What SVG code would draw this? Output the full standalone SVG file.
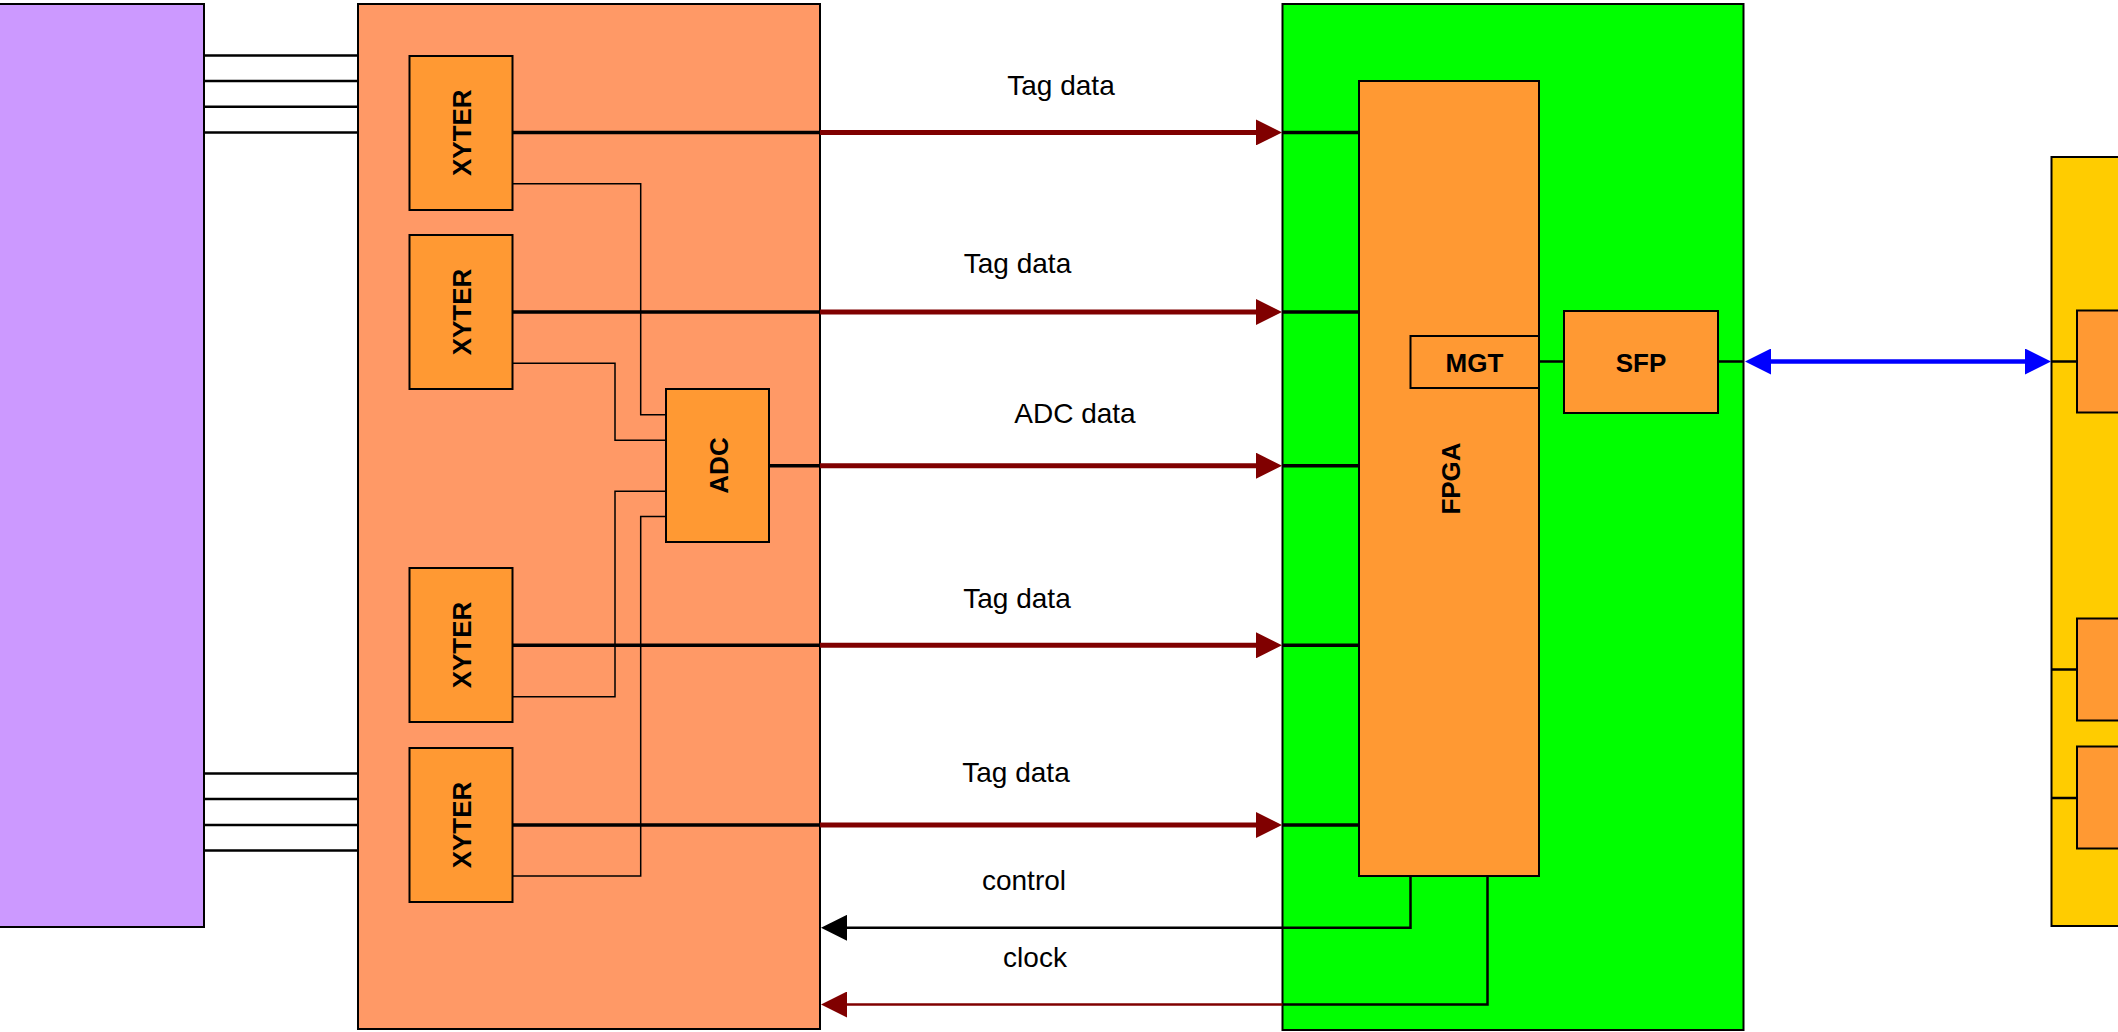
<svg xmlns="http://www.w3.org/2000/svg" width="2118" height="1032" viewBox="0 0 2118 1032">
<defs>
<style>
.box{stroke:#000;stroke-width:2}
.purple{fill:#CC99FF}
.board{fill:#FF9966}
.chip{fill:#FF9933}
.green{fill:#00FF00}
.yellow{fill:#FFCC00}
.bl{font-family:"Comic Sans MS","Liberation Sans",sans-serif;font-weight:bold;font-size:26px;text-anchor:middle;fill:#000}
.lbl{font-family:"Comic Sans MS","Liberation Sans",sans-serif;font-size:28px;text-anchor:middle;fill:#000}
.thin{fill:none;stroke:#000;stroke-width:1.5}
.wire{fill:none;stroke:#000;stroke-width:2.5}
.thick{fill:none;stroke:#000;stroke-width:3.5}
.red{fill:none;stroke:#800000;stroke-width:5;marker-end:url(#ahRed)}
.redThin{fill:none;stroke:#800000;stroke-width:2.5;marker-end:url(#ahRed)}
.blk{fill:none;stroke:#000;stroke-width:2.5;marker-end:url(#ahBlack)}
.blue{fill:none;stroke:#0000FF;stroke-width:4.5;marker-start:url(#ahBlueS);marker-end:url(#ahBlue)}
</style>
<marker id="ahRed" viewBox="0 0 26 26" refX="6" refY="13" markerWidth="26" markerHeight="26" markerUnits="userSpaceOnUse" orient="auto"><path d="M0,0 L26,13 L0,26 z" fill="#800000"/></marker>
<marker id="ahBlack" viewBox="0 0 26 26" refX="6" refY="13" markerWidth="26" markerHeight="26" markerUnits="userSpaceOnUse" orient="auto"><path d="M0,0 L26,13 L0,26 z" fill="#000"/></marker>
<marker id="ahBlue" viewBox="0 0 26 26" refX="6" refY="13" markerWidth="26" markerHeight="26" markerUnits="userSpaceOnUse" orient="auto"><path d="M0,0 L26,13 L0,26 z" fill="#0000FF"/></marker>
<marker id="ahBlueS" viewBox="0 0 26 26" refX="20" refY="13" markerWidth="26" markerHeight="26" markerUnits="userSpaceOnUse" orient="auto"><path d="M26,0 L0,13 L26,26 z" fill="#0000FF"/></marker>
</defs>
<rect width="2118" height="1032" fill="#fff"/>

<g id="detector"><rect class="box purple" x="-2" y="4" width="206" height="923"/></g>
<g id="frontend-board"><rect class="box board" x="358" y="4" width="462" height="1025"/></g>
<g id="readout-board"><rect class="box green" x="1282.5" y="4" width="461" height="1026"/></g>
<g id="daq-board"><rect class="box yellow" x="2051.5" y="157" width="100" height="769"/></g>

<g id="xyter1"><rect class="box chip" x="409.5" y="56" width="103" height="154"/><text class="bl" transform="translate(461,132.7) rotate(-90)" y="9.5">XYTER</text></g>
<g id="xyter2"><rect class="box chip" x="409.5" y="235" width="103" height="154"/><text class="bl" transform="translate(461,312) rotate(-90)" y="9.5">XYTER</text></g>
<g id="xyter3"><rect class="box chip" x="409.5" y="568" width="103" height="154"/><text class="bl" transform="translate(461,645) rotate(-90)" y="9.5">XYTER</text></g>
<g id="xyter4"><rect class="box chip" x="409.5" y="748" width="103" height="154"/><text class="bl" transform="translate(461,825) rotate(-90)" y="9.5">XYTER</text></g>
<g id="adc"><rect class="box chip" x="666" y="389" width="103" height="153"/><text class="bl" transform="translate(718,465.5) rotate(-90)" y="9.5">ADC</text></g>
<g id="fpga"><rect class="box chip" x="1359" y="81" width="180" height="795"/><text class="bl" transform="translate(1450.5,478.5) rotate(-90)" y="9.5">FPGA</text></g>
<g id="mgt"><rect class="box chip" x="1410.5" y="336" width="128.5" height="52"/><text class="bl" x="1474.5" y="372">MGT</text></g>
<g id="sfp"><rect class="box chip" x="1564" y="311" width="154" height="102"/><text class="bl" x="1641" y="372">SFP</text></g>
<g id="daq-chip1"><rect class="box chip" x="2077" y="310.5" width="80" height="102"/></g>
<g id="daq-chip2"><rect class="box chip" x="2077" y="618.5" width="80" height="102"/></g>
<g id="daq-chip3"><rect class="box chip" x="2077" y="746.5" width="80" height="102"/></g>

<g id="connectors">
<path class="wire" d="M204,55.5H358M204,81H358M204,106.7H358M204,132.4H358M204,773.5H358M204,799H358M204,825H358M204,850.5H358"/>
<path class="thin" d="M512.5,183.7H640.7V414.7H666M512.5,363.3H615V440.3H666M512.5,696.8H615V491.3H666M512.5,876H640.7V516.6H666"/>
<path class="thick" d="M512.5,132.4H820M512.5,312H820M769,465.7H820M512.5,645.3H820M512.5,825H820"/>
<path class="thick" d="M1282.5,132.4H1359M1282.5,312H1359M1282.5,465.7H1359M1282.5,645.3H1359M1282.5,825H1359"/>
<line class="red" x1="820" y1="132.4" x2="1262" y2="132.4"/>
<line class="red" x1="820" y1="312" x2="1262" y2="312"/>
<line class="red" x1="820" y1="465.7" x2="1262" y2="465.7"/>
<line class="red" x1="820" y1="645.3" x2="1262" y2="645.3"/>
<line class="red" x1="820" y1="825" x2="1262" y2="825"/>
<path class="wire" d="M1539,361.5H1564M1718,361.5H1743.5"/>
<line class="blue" x1="1765" y1="361.5" x2="2031" y2="361.5"/>
<path class="wire" d="M2051.5,361.5H2077M2051.5,669.5H2077M2051.5,798H2077"/>
<path class="wire" d="M1410.5,876V927.8H1282.5M1487.5,876V1004.5H1282.5"/>
<line class="blk" x1="1282.5" y1="927.8" x2="841" y2="927.8"/>
<line class="redThin" x1="1282.5" y1="1004.5" x2="841" y2="1004.5"/>
</g>

<g id="labels">
<text class="lbl" x="1061" y="95">Tag data</text>
<text class="lbl" x="1017.5" y="273">Tag data</text>
<text class="lbl" x="1075" y="423">ADC data</text>
<text class="lbl" x="1017" y="608">Tag data</text>
<text class="lbl" x="1016" y="781.5">Tag data</text>
<text class="lbl" x="1024" y="889.5">control</text>
<text class="lbl" x="1035" y="966.5">clock</text>
</g>
</svg>
